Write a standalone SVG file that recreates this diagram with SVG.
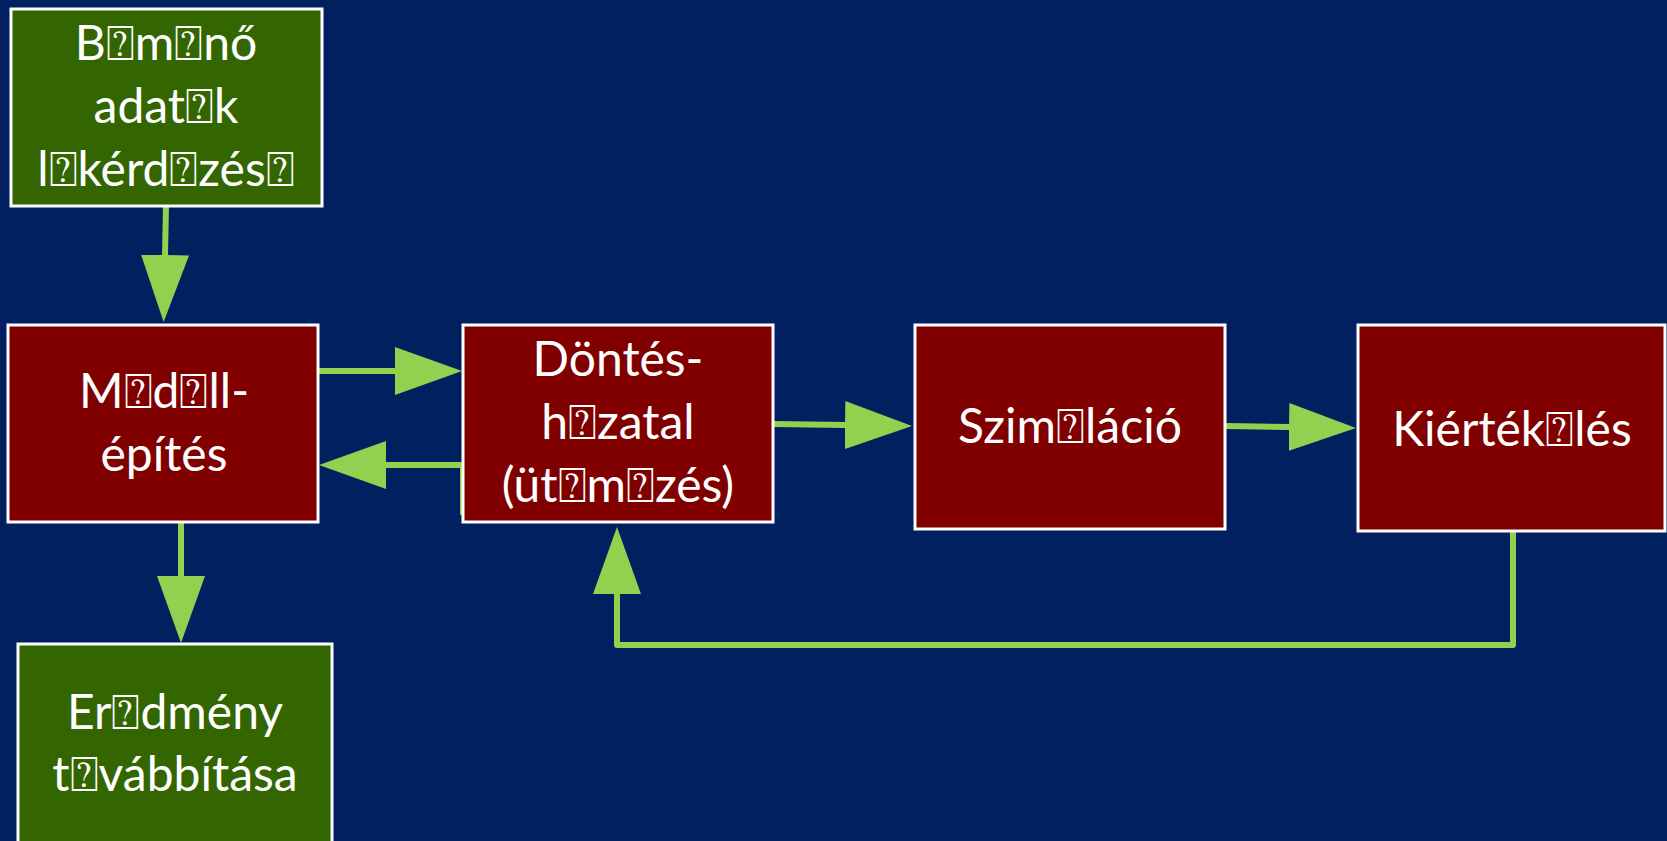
<svg xmlns="http://www.w3.org/2000/svg" width="1667" height="841" viewBox="0 0 1667 841">
<style>
.bg{fill:#002060}
.red{fill:#800000;stroke:#FFFFFF;stroke-width:3}
.grn{fill:#336600;stroke:#FFFFFF;stroke-width:3}
.t{font-family:Lato,"Open Sans","DejaVu Sans",sans-serif;font-size:48px;fill:#FFFFFF;text-anchor:middle}
.c{fill:none;stroke:#92D050;stroke-width:6;stroke-linecap:round;stroke-linejoin:round}
</style>
<defs>
<marker id="ah" markerUnits="userSpaceOnUse" markerWidth="70" markerHeight="50" refX="0" refY="24" orient="auto" viewBox="0 0 70 48">
<path d="M0,0 L67,24 L0,48 Z" fill="#92D050"/>
</marker>
</defs>
<rect class="bg" x="0" y="0" width="1667" height="841"/>
<g id="connectors">
<path class="c" d="M166,206 L165,255" marker-end="url(#ah)"/>
<path class="c" d="M316,371 L395,371" marker-end="url(#ah)"/>
<path class="c" d="M463,513 L463,465 L386,465" marker-end="url(#ah)"/>
<path class="c" d="M774,424 L845,425" marker-end="url(#ah)"/>
<path class="c" d="M1226,426 L1289,427" marker-end="url(#ah)"/>
<path class="c" d="M1513,531 L1513,645 L617,645 L617,594" marker-end="url(#ah)"/>
<path class="c" d="M181,523 L181,576" marker-end="url(#ah)"/>
</g>
<g id="node-bemeno">
<rect class="grn" x="11" y="9" width="311" height="197"/>
<text class="t" x="166" y="60">B⍰m⍰nő</text>
<text class="t" x="166" y="123">adat⍰k</text>
<text class="t" x="166" y="186">l⍰kérd⍰zés⍰</text>
</g>
<g id="node-modell">
<rect class="red" x="8" y="325" width="310" height="197"/>
<text class="t" x="164" y="408">M⍰d⍰ll-</text>
<text class="t" x="164" y="471">építés</text>
</g>
<g id="node-dontes">
<rect class="red" x="463" y="325" width="310" height="197"/>
<text class="t" x="618" y="376">Döntés-</text>
<text class="t" x="618" y="439">h⍰zatal</text>
<text class="t" x="618" y="502">(üt⍰m⍰zés)</text>
</g>
<g id="node-szimulacio">
<rect class="red" x="915" y="325" width="310" height="204"/>
<text class="t" x="1070" y="443">Szim⍰láció</text>
</g>
<g id="node-kiertekeles">
<rect class="red" x="1358" y="325" width="307" height="206"/>
<text class="t" x="1512" y="446">Kiérték⍰lés</text>
</g>
<g id="node-eredmeny">
<rect class="grn" x="18" y="644" width="314" height="210"/>
<text class="t" x="175" y="729">Er⍰dmény</text>
<text class="t" x="175" y="791">t⍰vábbítása</text>
</g>
</svg>
